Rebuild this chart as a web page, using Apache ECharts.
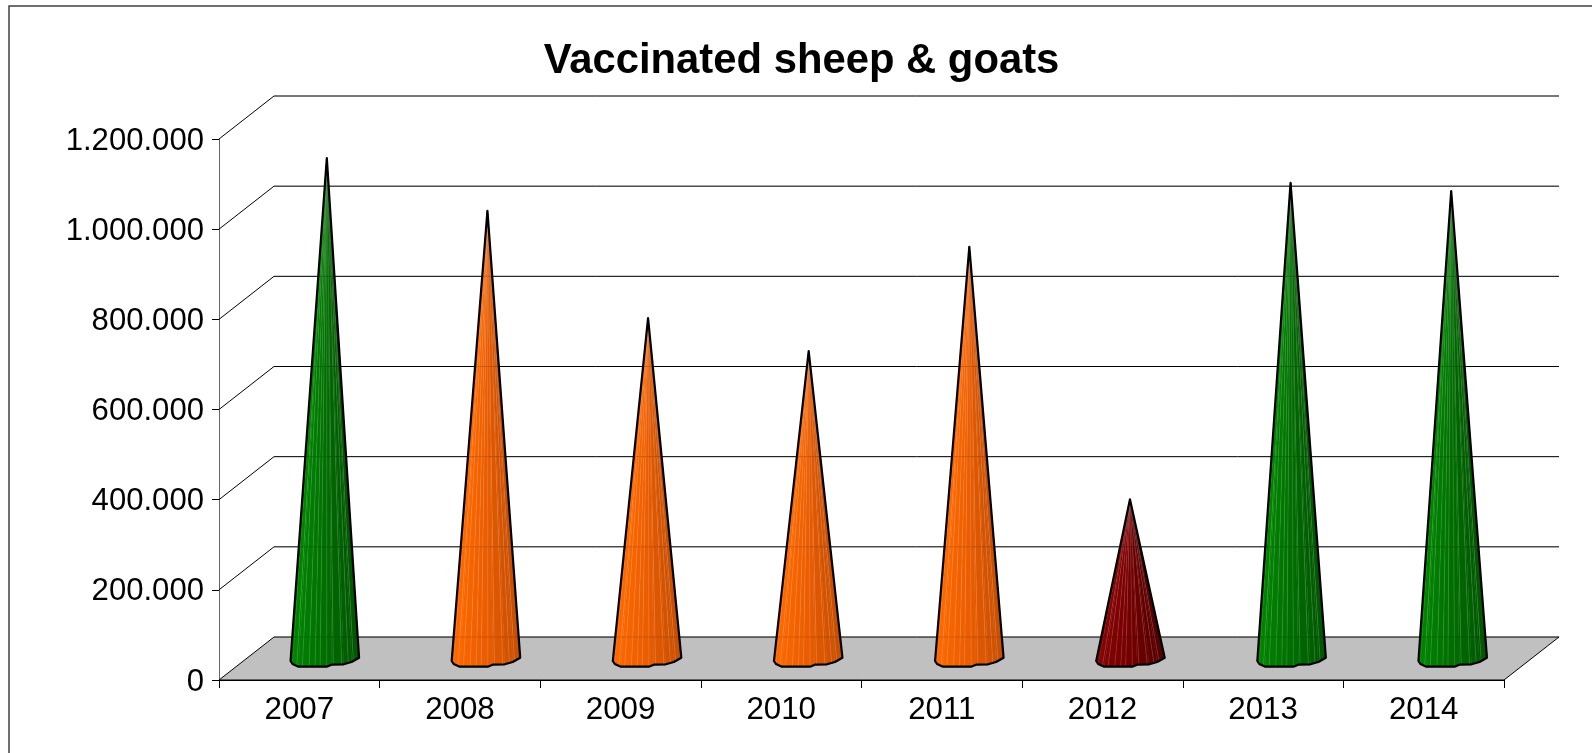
<!DOCTYPE html>
<html>
<head>
<meta charset="utf-8">
<style>html,body{margin:0;padding:0;background:#fff;overflow:hidden}#c{width:1592px;height:753px}</style>
<script src="https://cdn.jsdelivr.net/npm/echarts@6/dist/echarts.min.js"></script>
</head>
<body>
<div id="c"></div>
<script>
const titleText = 'Vaccinated sheep & goats';
const years = ['2007','2008','2009','2010','2011','2012','2013','2014'];
const vaccinated = [1110000, 993000, 755000, 682000, 913000, 353000, 1055000, 1037000];
const status = ['green','orange','orange','orange','orange','red','green','green'];
const yTicks = [0, 200000, 400000, 600000, 800000, 1000000, 1200000];
const yTickLabels = ['0','200.000','400.000','600.000','800.000','1.000.000','1.200.000'];

const palette = {
  green:  [[1,134,1],[0,110,0],[0,86,0]],
  orange: [[255,106,0],[234,92,0],[200,78,0]],
  red:    [[134,4,4],[116,0,0],[86,0,0]]
};
const DEPTH_X = 55, DEPTH_Y = -43;
const BASE_SPREAD = 0.5; // base drifts slightly from the apex column across the chart
// Outline of the faceted cone base, relative to the base centre
const baseOutline = [[-35,2.5],[-33,5.5],[-27,8.2],[1,8.2],[6,6.2],[18,5.8],[26,3.5],[33.5,-0.8]];
const stripeOffsets = [-28.8,-23.2,-16.5,-10.5,-5.5,1.2,7.8,16,22.7,27.8];

function baseY(dx){
  for(let i=0;i<baseOutline.length-1;i++){
    const a=baseOutline[i],b=baseOutline[i+1];
    if(dx<=b[0]) return a[1]+(b[1]-a[1])*(dx-a[0])/(b[0]-a[0]);
  }
  return baseOutline[baseOutline.length-1][1];
}
function shade(c,t){
  const k=t<0.5?0:1, u=(t-k*0.5)*2, p=c[k], q=c[k+1];
  return 'rgb('+p.map((v,i)=>Math.round(v+(q[i]-v)*u)).join(',')+')';
}
function edges(api){
  const band=api.size([1,0])[0];
  return {band, left:api.coord([0,0])[0]-band/2, right:api.coord([years.length-1,0])[0]+band/2};
}
function floorItem(params,api){
  const e=edges(api), y=api.coord([0,0])[1];
  return {type:'polygon',shape:{points:[[e.left,y],[e.right,y],[e.right+DEPTH_X,y+DEPTH_Y],[e.left+DEPTH_X,y+DEPTH_Y]]},
    style:{fill:'#c0c0c0',stroke:'#000',lineWidth:1}};
}
function wallItem(params,api){
  const e=edges(api), y=api.coord([0,api.value(0)])[1];
  return {type:'polyline',shape:{points:[[e.left,y],[e.left+DEPTH_X,y+DEPTH_Y],[e.right+DEPTH_X,y+DEPTH_Y]]},
    style:{fill:'none',stroke:'#000',lineWidth:1}};
}
function throughItem(params,api){
  const e=edges(api), y=api.coord([0,api.value(0)])[1];
  return {type:'line',shape:{x1:e.left+DEPTH_X,y1:y+DEPTH_Y,x2:e.right+DEPTH_X,y2:y+DEPTH_Y},
    style:{stroke:'#000',lineWidth:1,opacity:0.12}};
}
function coneItem(params,api){
  const i=api.value(0), top=api.coord([i,api.value(1)]), zero=api.coord([i,0]);
  const ax=zero[0]+DEPTH_X/2, cy=zero[1]+DEPTH_Y/2;
  const cx=ax+(i-2.5)*BASE_SPREAD;
  const apex=[ax,top[1]+DEPTH_Y/2];
  const cols=palette[status[i]];
  const xs=[...new Set(baseOutline.map(p=>p[0]).concat(stripeOffsets))].sort((a,b)=>a-b);
  const children=[];
  for(let k=0;k<xs.length-1;k++){
    const t=((xs[k]+xs[k+1])/2-xs[0])/(xs[xs.length-1]-xs[0]);
    const col=shade(cols,t);
    children.push({type:'polygon',shape:{points:[apex,[cx+xs[k],cy+baseY(xs[k])],[cx+xs[k+1],cy+baseY(xs[k+1])]]},
      style:{fill:col,stroke:col,lineWidth:0.4}});
  }
  stripeOffsets.forEach(d=>{
    children.push({type:'line',shape:{x1:apex[0],y1:apex[1],x2:cx+d,y2:cy+baseY(d)},
      style:{stroke:'#fff',lineWidth:0.5,opacity:0.25}});
  });
  children.push({type:'polygon',shape:{points:[apex].concat(baseOutline.map(p=>[cx+p[0],cy+p[1]]))},
    style:{fill:'none',stroke:'#000',lineWidth:2.2,lineJoin:'round'}});
  return {type:'group',children};
}

const font='"Liberation Sans", Arial, sans-serif';
const chart=echarts.init(document.getElementById('c'),null,{renderer:'canvas'});
chart.setOption({
  animation:false,
  backgroundColor:'#fff',
  title:{text:titleText,left:796.5,top:35,textAlign:'center',
    textStyle:{fontFamily:font,fontWeight:'bold',fontSize:41.8,color:'#000'}},
  graphic:[{type:'rect',silent:true,z:0,shape:{x:9,y:6,width:1700,height:900},
    style:{fill:'none',stroke:'#404040',lineWidth:1.5}}],
  grid:{left:219,right:88,top:139,bottom:73},
  xAxis:{type:'category',data:years,
    axisLine:{lineStyle:{color:'#000',width:1}},
    axisTick:{show:true,alignWithLabel:false,length:8,lineStyle:{color:'#000'}},
    axisLabel:{fontFamily:font,fontSize:31.3,color:'#000',margin:15,interval:0},
    splitLine:{show:false}},
  yAxis:{type:'value',min:0,max:1200000,interval:200000,
    axisLine:{show:true,lineStyle:{color:'#666',width:1}},
    axisTick:{show:true,length:7,lineStyle:{color:'#000'}},
    axisLabel:{fontFamily:font,fontSize:31.1,color:'#000',margin:15,verticalAlign:'top',lineHeight:4,
      formatter:v=>yTickLabels[yTicks.indexOf(v)]},
    splitLine:{show:false}},
  series:[
    {type:'custom',z:1,silent:true,renderItem:floorItem,data:[[0]],encode:{x:[],y:[]}},
    {type:'custom',z:2,silent:true,renderItem:wallItem,data:yTicks.slice(1).map(v=>[v]),encode:{x:[],y:[]}},
    {type:'custom',z:3,silent:true,renderItem:coneItem,
      data:vaccinated.map((v,i)=>[i,v]),encode:{x:0,y:1}},
    {type:'custom',z:4,silent:true,renderItem:throughItem,data:yTicks.map(v=>[v]),encode:{x:[],y:[]}}
  ]
});
</script>
</body>
</html>
